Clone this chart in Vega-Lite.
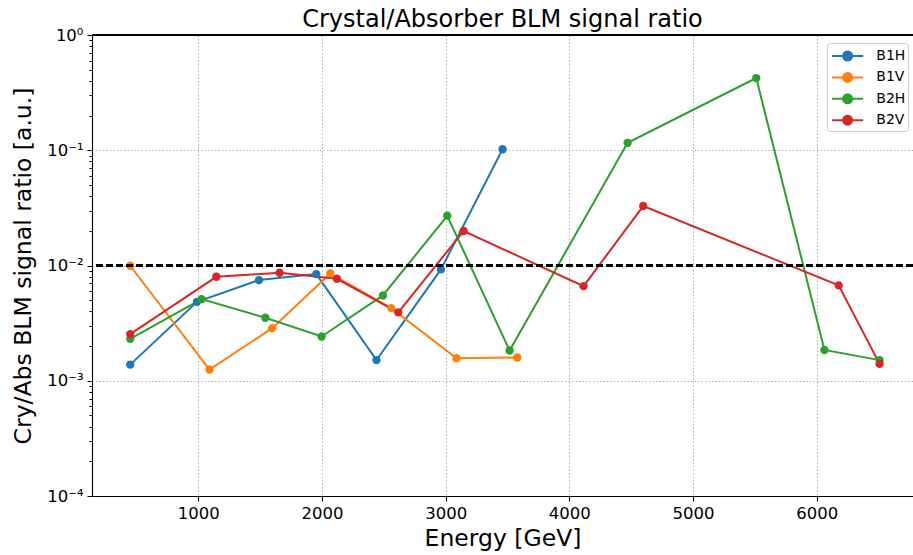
{
  "$schema": "https://vega.github.io/schema/vega-lite/v6.json",
  "autosize": "none",
  "padding": {"left": 92, "top": 35, "right": 0, "bottom": 59},
  "width": 821,
  "height": 461,
  "background": "white",
  "title": {"text": "Crystal/Absorber BLM signal ratio", "font": "DejaVu Sans", "fontSize": 24, "fontWeight": "normal", "color": "black", "anchor": "middle", "baseline": "alphabetic", "offset": -24},
  "config": {
    "view": {"stroke": null},
    "font": "DejaVu Sans",
    "axis": {"labelFont": "DejaVu Sans", "titleFont": "DejaVu Sans", "labelColor": "black", "titleColor": "black", "domainColor": "black", "tickColor": "black", "titleFontWeight": "normal", "labelFontSize": 16.5, "titleFontSize": 23.5}
  },
  "data": {"values": [
    {"series": "B1H", "E": 450, "r": 0.00138},
    {"series": "B1H", "E": 990, "r": 0.00484},
    {"series": "B1H", "E": 1491, "r": 0.00747},
    {"series": "B1H", "E": 1954, "r": 0.00842},
    {"series": "B1H", "E": 2441, "r": 0.00151},
    {"series": "B1H", "E": 2962, "r": 0.00925},
    {"series": "B1H", "E": 3460, "r": 0.102},
    {"series": "B1V", "E": 450, "r": 0.00995},
    {"series": "B1V", "E": 1091, "r": 0.00125},
    {"series": "B1V", "E": 1598, "r": 0.00286},
    {"series": "B1V", "E": 2067, "r": 0.00854},
    {"series": "B1V", "E": 2560, "r": 0.00427},
    {"series": "B1V", "E": 3088, "r": 0.00157},
    {"series": "B1V", "E": 3579, "r": 0.00159},
    {"series": "B2H", "E": 450, "r": 0.00231},
    {"series": "B2H", "E": 1027, "r": 0.00511},
    {"series": "B2H", "E": 1542, "r": 0.00352},
    {"series": "B2H", "E": 1997, "r": 0.00242},
    {"series": "B2H", "E": 2493, "r": 0.0055},
    {"series": "B2H", "E": 3013, "r": 0.027},
    {"series": "B2H", "E": 3517, "r": 0.00183},
    {"series": "B2H", "E": 4471, "r": 0.116},
    {"series": "B2H", "E": 5511, "r": 0.423},
    {"series": "B2H", "E": 6062, "r": 0.00185},
    {"series": "B2H", "E": 6508, "r": 0.00151},
    {"series": "B2V", "E": 450, "r": 0.00254},
    {"series": "B2V", "E": 1146, "r": 0.00798},
    {"series": "B2V", "E": 1657, "r": 0.00865},
    {"series": "B2V", "E": 2121, "r": 0.00767},
    {"series": "B2V", "E": 2617, "r": 0.00392},
    {"series": "B2V", "E": 3145, "r": 0.0199},
    {"series": "B2V", "E": 4115, "r": 0.00662},
    {"series": "B2V", "E": 4597, "r": 0.0328},
    {"series": "B2V", "E": 6177, "r": 0.00672},
    {"series": "B2V", "E": 6508, "r": 0.0014}
  ]},
  "encoding": {
    "x": {"field": "E", "type": "quantitative",
      "scale": {"domain": [141, 6778], "nice": false, "zero": false},
      "axis": {"title": "Energy [GeV]", "values": [1000, 2000, 3000, 4000, 5000, 6000], "format": "d", "grid": true, "gridColor": "#b0b0b0", "gridDash": [1.5, 2], "gridWidth": 1, "tickSize": 5, "tickWidth": 1.1, "domainWidth": 1.1, "labelPadding": 4, "titlePadding": 5}},
    "y": {"field": "r", "type": "quantitative",
      "scale": {"type": "log", "domain": [0.0001, 1], "nice": false},
      "axis": {"title": "Cry/Abs BLM signal ratio [a.u.]",
        "values": [0.0001, 0.0002, 0.0003, 0.0004, 0.0005, 0.0006, 0.0007, 0.0008, 0.0009, 0.001, 0.002, 0.003, 0.004, 0.005, 0.006, 0.007, 0.008, 0.009, 0.01, 0.02, 0.03, 0.04, 0.05, 0.06, 0.07, 0.08, 0.09, 0.1, 0.2, 0.3, 0.4, 0.5, 0.6, 0.7, 0.8, 0.9, 1],
        "labelExpr": "abs(log(datum.value)/LN10 - round(log(datum.value)/LN10)) < 0.001 ? (datum.value > 0.5 ? '10⁰' : datum.value > 0.05 ? '10⁻¹' : datum.value > 0.005 ? '10⁻²' : datum.value > 0.0005 ? '10⁻³' : '10⁻⁴') : ''",
        "grid": true, "gridColor": "#b0b0b0", "gridDash": [1.5, 2], "gridWidth": 1,
        "gridOpacity": {"condition": {"test": "abs(log(datum.value)/LN10 - round(log(datum.value)/LN10)) < 0.001", "value": 1}, "value": 0},
        "tickSize": {"condition": {"test": "abs(log(datum.value)/LN10 - round(log(datum.value)/LN10)) < 0.001", "value": 5}, "value": 3},
        "tickWidth": 1, "domainWidth": 1.1, "labelPadding": 4, "titlePadding": 11, "labelOverlap": false}},
    "color": {"field": "series", "type": "nominal",
      "scale": {"domain": ["B1H", "B1V", "B2H", "B2V"], "range": ["#1f77b4", "#ff7f0e", "#2ca02c", "#d62728"]},
      "legend": {"title": null, "orient": "none", "legendX": 735, "legendY": 8,
        "labelFont": "DejaVu Sans", "labelFontSize": 14, "labelColor": "black",
        "symbolType": "M-1.55,0L1.55,0M0.45,0A0.45,0.45,0,1,1,-0.45,0A0.45,0.45,0,1,1,0.45,0Z",
        "symbolSize": 400, "symbolStrokeWidth": 2, "rowPadding": 1.4, "symbolOffset": 7.6,
        "strokeColor": "#cccccc", "fillColor": "rgba(255,255,255,0.8)", "cornerRadius": 3, "padding": 2, "labelOffset": 17.7,
        "encode": {"symbols": {"update": {"fill": {"scale": "color", "field": "value"}, "stroke": {"scale": "color", "field": "value"}, "opacity": {"value": 1}}}}}}
  },
  "layer": [
    {"mark": {"type": "line", "strokeWidth": 2}},
    {"mark": {"type": "circle", "size": 70, "opacity": 1}},
    {"mark": {"type": "rule", "color": "black", "strokeWidth": 2, "strokeDash": [7, 3]}, "encoding": {"y": {"datum": 0.01}, "x": null, "color": null}},
    {"mark": {"type": "rule", "color": "black", "strokeWidth": 1.1}, "encoding": {"y": {"datum": 1}, "x": null, "color": null}}
  ]
}
